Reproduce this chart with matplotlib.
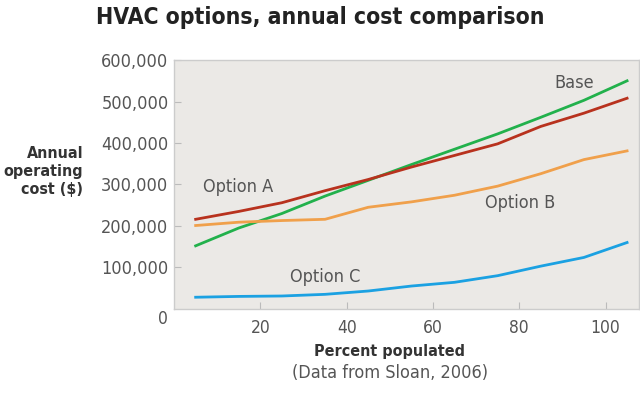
import numpy as np
import matplotlib
matplotlib.use('Agg')
import matplotlib.pyplot as plt

# percent populated
pct = [5, 15, 25, 35, 45, 55, 65, 75, 85, 95, 105]
# annual operating cost ($)
base = [152000, 195000, 230000, 272000, 310000, 348000, 385000, 422000, 462000, 503000, 550000]
option_a = [216000, 235000, 256000, 285000, 312000, 342000, 370000, 398000, 440000, 472000, 508000]
option_b = [201000, 209000, 213000, 216000, 245000, 258000, 274000, 296000, 326000, 360000, 381000]
option_c = [28000, 30000, 31000, 35000, 43000, 55000, 64000, 80000, 103000, 124000, 160000]

series_names = ['Base', 'Option A', 'Option B', 'Option C']
series_colors = ['#22b14c', '#b8321e', '#f0a04b', '#1ba1e2']
# label anchor positions (data coords)
label_pos = [(92.7, 545000), (14.8, 293000), (80.3, 256000), (35.1, 76000)]

yticks = [100000, 200000, 300000, 400000, 500000, 600000]
xticks = [20, 40, 60, 80, 100]

# narrow look of the original: DejaVu Sans Condensed
plt.rcParams['font.family'] = ['DejaVu Sans']
plt.rcParams['font.stretch'] = 'condensed'

fig = plt.figure(figsize=(6.4, 3.98), dpi=100)
ax = fig.add_axes([0.272, 0.224, 0.726, 0.625])
ax.set_facecolor('#ebe9e6')

for vals, name, col, (lx, ly) in zip([base, option_a, option_b, option_c], series_names, series_colors, label_pos):
    ax.plot(pct, vals, color=col, lw=2)
    ax.text(lx, ly, name, ha='center', va='center', fontsize=13, color='#555555', stretch='condensed')

ax.set_xlim(0, 107.7)
ax.set_ylim(0, 600000)
ax.set_xticks(xticks)
ax.set_yticks(yticks)
ax.set_yticklabels(['{:,}'.format(v) for v in yticks])
ax.tick_params(direction='in', length=5, color='#bbbbbb', labelcolor='#555555')
ax.tick_params(axis='y', pad=4, labelsize=13)
ax.tick_params(axis='x', pad=7, labelsize=12.5)
for lab in ax.get_xticklabels() + ax.get_yticklabels():
    lab.set_fontstretch('condensed')
for s in ax.spines.values():
    s.set_color('#cccccc')
    s.set_linewidth(1)

# corner zero shared by both axes
ax.text(-0.024, -0.04, '0', transform=ax.transAxes, ha='center', va='center', fontsize=12.5,
        color='#555555', stretch='condensed')

fig.text(0.13, 0.568, 'Annual\noperating\ncost ($)', ha='right', va='center', fontsize=11.5,
         fontweight='bold', color='#333333', linespacing=1.25, stretch='condensed')
fig.text(0.609, 0.116, 'Percent populated', ha='center', va='center', fontsize=11.5,
         fontweight='bold', color='#333333', stretch='condensed')
fig.text(0.609, 0.063, '(Data from Sloan, 2006)', ha='center', va='center', fontsize=13,
         color='#555555', stretch='condensed')
fig.text(0.5, 0.955, 'HVAC options, annual cost comparison', ha='center', va='center', fontsize=16.5,
         fontweight='bold', color='#222222', stretch='condensed')

fig.savefig('out.png', dpi=100, facecolor='white')
